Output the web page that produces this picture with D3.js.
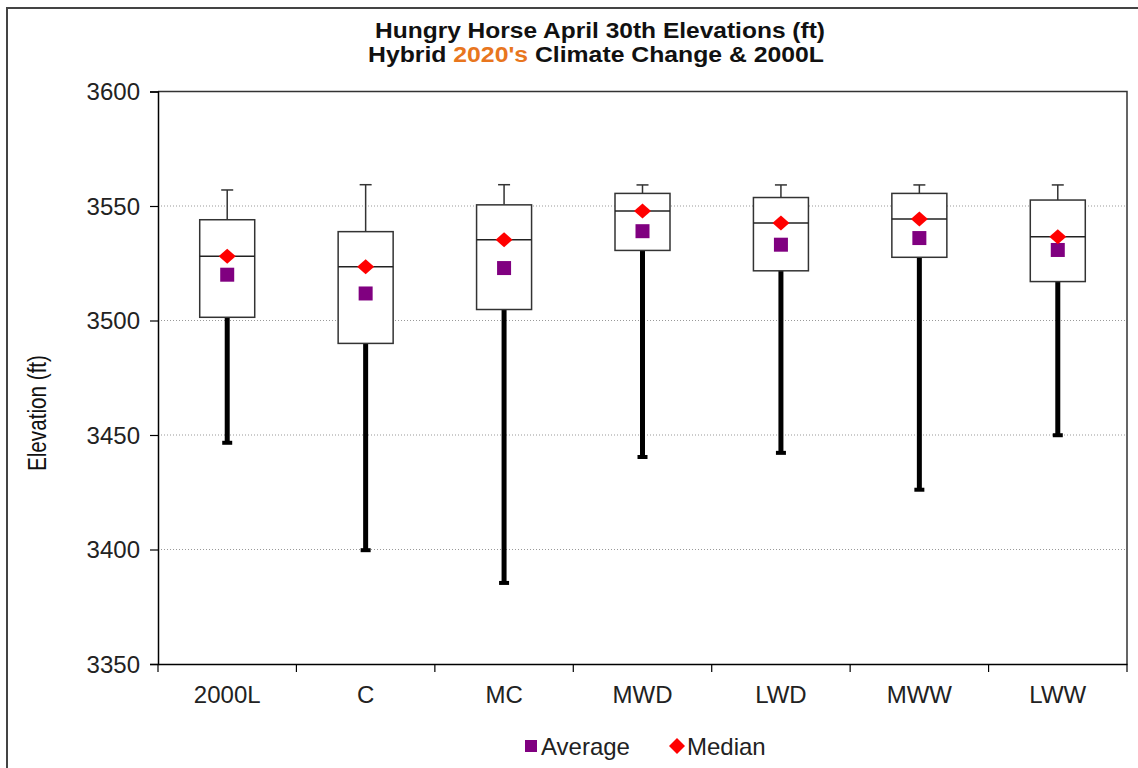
<!DOCTYPE html>
<html>
<head>
<meta charset="utf-8">
<script src="https://cdn.jsdelivr.net/npm/d3@7"></script>
<style>
  html, body { margin: 0; padding: 0; background: #fff; }
  svg { display: block; font-family: "Liberation Sans", Arial, sans-serif; }
</style>
</head>
<body>
<svg id="chart" width="1138" height="768"></svg>
<script>
// Hungry Horse April 30th elevations (ft) by scenario
const categories = ["2000L", "C", "MC", "MWD", "LWD", "MWW", "LWW"];
const maxVals   = [3557.0, 3559.3, 3559.3, 3559.2, 3559.2, 3559.2, 3559.2];
const q3Vals    = [3544.0, 3538.8, 3550.5, 3555.5, 3553.7, 3555.5, 3552.6];
const medians   = [3528.1, 3523.5, 3535.3, 3547.8, 3542.6, 3544.3, 3536.6];
const averages  = [3520.0, 3511.8, 3522.9, 3539.0, 3533.1, 3536.0, 3530.8];
const q1Vals    = [3501.4, 3490.0, 3504.8, 3530.6, 3521.7, 3527.6, 3517.0];
const minVals   = [3446.6, 3399.7, 3385.4, 3440.4, 3442.2, 3426.1, 3449.9];
const yTicks    = [3350, 3400, 3450, 3500, 3550, 3600];

const svg = d3.select("#chart");
const plotLeft = 158, plotRight = 1127, plotTop = 91.5, plotBottom = 664;
const FONT = "'Liberation Sans', Arial, sans-serif";

// outer chart frame (top and left edges fall inside the image)
svg.append("rect")
  .attr("x", 7).attr("y", 8).attr("width", 1160).attr("height", 800)
  .attr("fill", "none").attr("stroke", "#444").attr("stroke-width", 2);

const x = d3.scaleBand().domain(categories).range([plotLeft, plotRight]);
const y = d3.scaleLinear().domain([3350, 3600]).range([plotBottom, plotTop]);

// dotted gridlines
svg.append("g").selectAll("line")
  .data(yTicks.filter(t => t > 3350 && t < 3600))
  .join("line")
  .attr("x1", plotLeft).attr("x2", plotRight)
  .attr("y1", d => y(d)).attr("y2", d => y(d))
  .attr("stroke", "#999").attr("stroke-width", 1).attr("stroke-dasharray", "1,2");

// plot frame top/right
svg.append("path")
  .attr("d", `M${plotLeft},${plotTop}H${plotRight}V${plotBottom}`)
  .attr("fill", "none").attr("stroke", "#333").attr("stroke-width", 1.5);

// axes
const yAxis = d3.axisLeft(y).tickValues(yTicks).tickSize(8).tickPadding(10).tickFormat(d3.format("d"));
const gy = svg.append("g").attr("transform", `translate(${plotLeft},0)`).call(yAxis);
gy.select(".domain").attr("stroke", "#000").attr("stroke-width", 1.5);
gy.selectAll(".tick line").attr("stroke", "#000").attr("stroke-width", 1.2);
gy.selectAll(".tick text").attr("font-size", 24).attr("fill", "#222")
  .attr("font-family", FONT).attr("dy", "0.34em");

const xAxis = d3.axisBottom(x).tickSize(0).tickPadding(0);
const gx = svg.append("g").attr("transform", `translate(0,${plotBottom})`).call(xAxis);
gx.select(".domain").attr("stroke", "#000").attr("stroke-width", 1.5);
gx.selectAll(".tick text").attr("font-size", 24).attr("fill", "#222").attr("dy", 0).attr("y", 39)
  .attr("font-family", FONT);

// x tick marks at band boundaries
svg.append("g").selectAll("line")
  .data(d3.range(categories.length + 1))
  .join("line")
  .attr("x1", i => plotLeft + i * x.step()).attr("x2", i => plotLeft + i * x.step())
  .attr("y1", plotBottom).attr("y2", plotBottom + 8)
  .attr("stroke", "#000").attr("stroke-width", 1.2);

// box plots
const boxW = 55;
const boxes = svg.append("g").selectAll("g")
  .data(categories.map((c, i) => ({
    c, max: maxVals[i], q3: q3Vals[i], med: medians[i], avg: averages[i], q1: q1Vals[i], min: minVals[i]
  })))
  .join("g")
  .attr("transform", d => `translate(${x(d.c) + x.bandwidth() / 2},0)`);

// upper whisker (thin)
boxes.append("line").attr("x1", 0).attr("x2", 0)
  .attr("y1", d => y(d.max)).attr("y2", d => y(d.q3))
  .attr("stroke", "#333").attr("stroke-width", 1.5);
boxes.append("line").attr("x1", -6).attr("x2", 6)
  .attr("y1", d => y(d.max)).attr("y2", d => y(d.max))
  .attr("stroke", "#333").attr("stroke-width", 1.5);

// lower whisker (heavy)
boxes.append("line").attr("x1", 0).attr("x2", 0)
  .attr("y1", d => y(d.q1)).attr("y2", d => y(d.min))
  .attr("stroke", "#000").attr("stroke-width", 5);
boxes.append("line").attr("x1", -5).attr("x2", 5)
  .attr("y1", d => y(d.min)).attr("y2", d => y(d.min))
  .attr("stroke", "#000").attr("stroke-width", 4);

// box
boxes.append("rect")
  .attr("x", -boxW / 2).attr("width", boxW)
  .attr("y", d => y(d.q3)).attr("height", d => y(d.q1) - y(d.q3))
  .attr("fill", "#fff").attr("stroke", "#333").attr("stroke-width", 1.5);
boxes.append("line").attr("x1", -boxW / 2).attr("x2", boxW / 2)
  .attr("y1", d => y(d.med)).attr("y2", d => y(d.med))
  .attr("stroke", "#222").attr("stroke-width", 1.5);

// average marker (square) and median marker (diamond)
boxes.append("rect")
  .attr("x", -7).attr("width", 14).attr("height", 14)
  .attr("y", d => y(d.avg) - 7)
  .attr("fill", "#800080");
boxes.append("path")
  .attr("d", d => `M0,${y(d.med) - 7.5}L8.5,${y(d.med)}L0,${y(d.med) + 7.5}L-8.5,${y(d.med)}Z`)
  .attr("fill", "#ff0000");

// titles
const title = svg.append("g").attr("font-weight", "bold").attr("font-size", 22)
  .attr("text-anchor", "middle").attr("fill", "#111");
title.append("text").attr("x", 600).attr("y", 38)
  .attr("textLength", 450).attr("lengthAdjust", "spacingAndGlyphs")
  .text("Hungry Horse April 30th Elevations (ft)");
const t2 = title.append("text").attr("x", 596).attr("y", 62)
  .attr("textLength", 456).attr("lengthAdjust", "spacingAndGlyphs");
t2.append("tspan").text("Hybrid ");
t2.append("tspan").attr("fill", "#e8761e").text("2020's");
t2.append("tspan").text(" Climate Change & 2000L");

// y axis label
svg.append("text")
  .attr("transform", "translate(46,413) rotate(-90)")
  .attr("text-anchor", "middle").attr("font-size", 26).attr("fill", "#111")
  .attr("textLength", 116).attr("lengthAdjust", "spacingAndGlyphs")
  .text("Elevation (ft)");

// legend
const legend = svg.append("g").attr("font-size", 24).attr("fill", "#222");
legend.append("rect").attr("x", 525).attr("y", 740).attr("width", 12).attr("height", 12).attr("fill", "#800080");
legend.append("text").attr("x", 541).attr("y", 755).text("Average");
legend.append("path").attr("d", "M677,738L685,746L677,754L669,746Z").attr("fill", "#ff0000");
legend.append("text").attr("x", 687).attr("y", 755).text("Median");
</script>
</body>
</html>
